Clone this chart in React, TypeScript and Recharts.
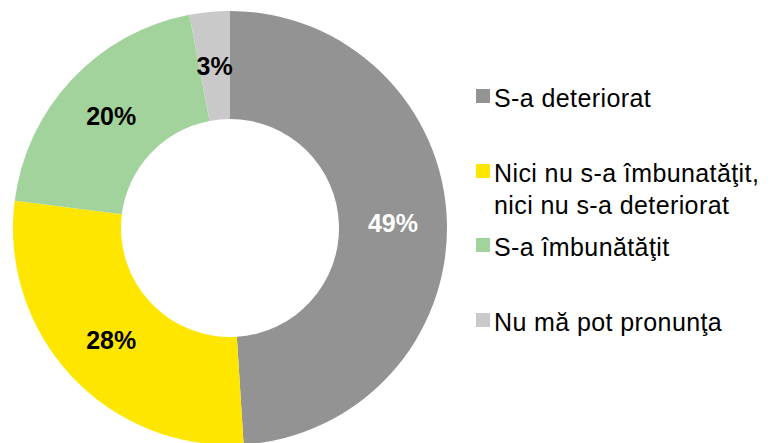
import { PieChart, Pie, Cell, Legend } from 'recharts';

const categories = [
  'S-a deteriorat',
  'Nici nu s-a îmbunatăţit, nici nu s-a deteriorat',
  'S-a îmbunătăţit',
  'Nu mă pot pronunţa',
];
const values = [49, 28, 20, 3];

const colors = ['#939393', '#FFE600', '#A3D39C', '#C9C9C9'];
const labelColors = ['#FFFFFF', '#000000', '#000000', '#000000'];

const data = categories.map((name, i) => ({ name, value: values[i] }));

const FONT = '"Liberation Sans", Arial, sans-serif';
const RADIAN = Math.PI / 180;

const renderLabel = (props: any) => {
  const { cx, cy, midAngle, innerRadius, outerRadius, value, index } = props;
  const r = (innerRadius + outerRadius) / 2;
  const x = cx + r * Math.cos(-midAngle * RADIAN);
  const y = cy + r * Math.sin(-midAngle * RADIAN);
  return (
    <text
      x={x}
      y={y}
      fill={labelColors[index]}
      textAnchor="middle"
      dominantBaseline="central"
      fontFamily={FONT}
      fontWeight="bold"
      fontSize={25}
    >
      {value}%
    </text>
  );
};

const renderLegend = (props: any) => {
  const payload = [...(props.payload || [])].sort(
    (a: any, b: any) => categories.indexOf(a.value) - categories.indexOf(b.value)
  );
  return (
    <div style={{ position: 'relative', width: 771, height: 443 }}>
      {payload.map((entry: any, i: number) => (
        <div key={entry.value} style={{ position: 'absolute', left: 476, top: Math.round(89 + i * 74.7) }}>
          <div style={{ position: 'absolute', left: 0, top: 0, width: 14, height: 14, background: entry.color }} />
          <div
            style={{
              position: 'absolute',
              left: 18,
              top: -7,
              width: 280,
              fontFamily: FONT,
              fontSize: 25,
              letterSpacing: 0.4,
              lineHeight: '32px',
              color: '#000',
              textAlign: 'left',
            }}
          >
            {entry.value}
          </div>
        </div>
      ))}
    </div>
  );
};

export default function App() {
  return (
    <div style={{ position: 'absolute', left: 0, top: 0, background: '#fff' }}>
      <PieChart width={771} height={443} margin={{ top: 0, right: 0, bottom: 0, left: 0 }}>
        <Pie
          data={data}
          dataKey="value"
          nameKey="name"
          cx={230}
          cy={228}
          innerRadius={109}
          outerRadius={217}
          startAngle={90}
          endAngle={-270}
          stroke="none"
          label={renderLabel}
          labelLine={false}
          isAnimationActive={false}
        >
          {data.map((d, i) => (
            <Cell key={d.name} fill={colors[i]} />
          ))}
        </Pie>
        <Legend
          content={renderLegend}
          wrapperStyle={{ left: 0, top: 0, width: 771, height: 443 }}
        />
      </PieChart>
    </div>
  );
}
